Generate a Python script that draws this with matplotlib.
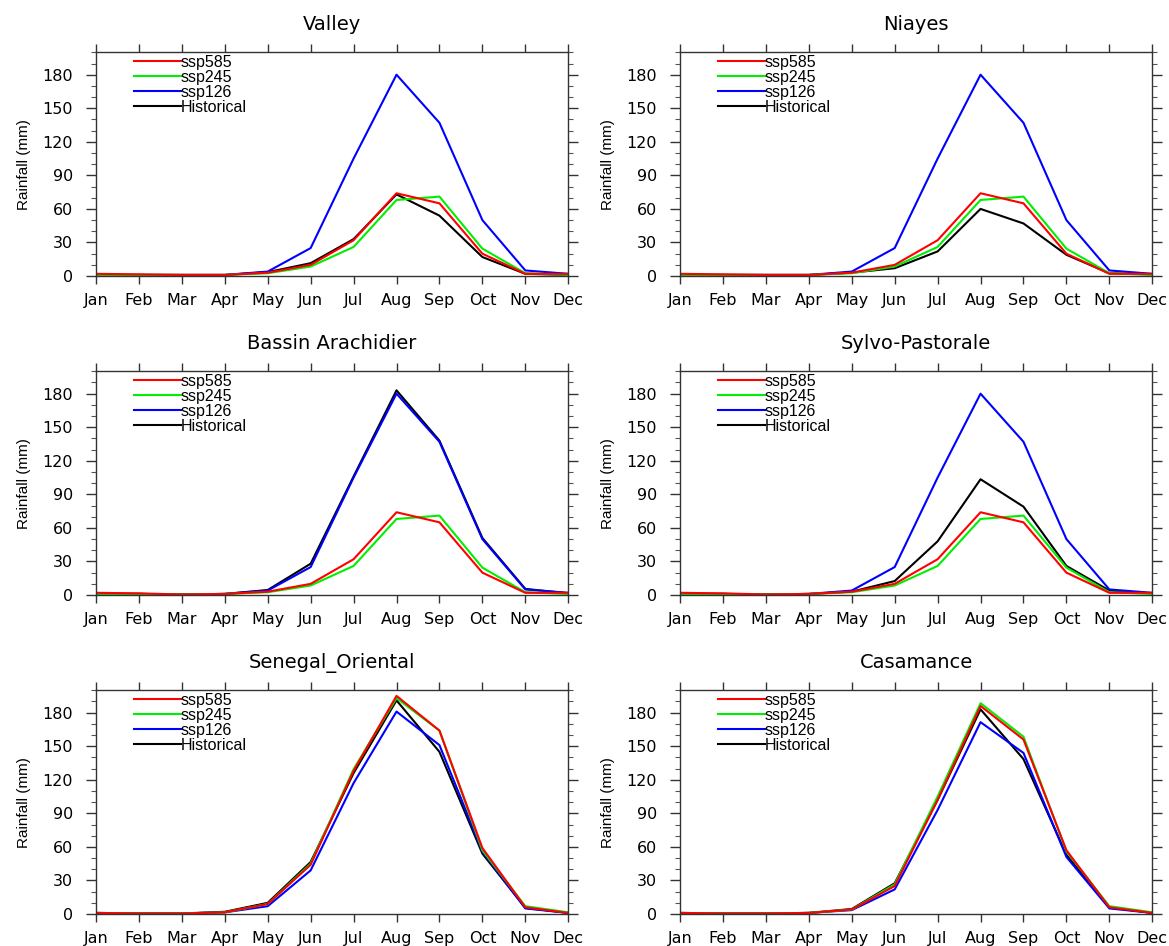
import matplotlib.pyplot as plt
from matplotlib.ticker import MultipleLocator

plt.rcParams['font.family'] = ['DejaVu Sans']

months = ['Jan', 'Feb', 'Mar', 'Apr', 'May', 'Jun', 'Jul', 'Aug', 'Sep', 'Oct', 'Nov', 'Dec']
regions = ['Valley', 'Niayes', 'Bassin Arachidier', 'Sylvo-Pastorale', 'Senegal_Oriental', 'Casamance']

# monthly rainfall (mm)
valley_585 = [2, 1.5, 1, 1, 3, 10, 32, 74, 65, 20, 2, 2]
valley_245 = [1, 1, 1, 1, 2.5, 8.5, 26, 68, 71, 24.5, 2.5, 1]
valley_126 = [1, 1, 1, 1, 4, 25, 105, 180, 137, 50, 5, 2]
valley_hist = [1, 1, 1, 1, 3.5, 11.5, 33, 73, 54, 17, 2, 1]

niayes_585 = [2, 1.5, 1, 1, 3, 10, 32, 74, 65, 20, 2, 2]
niayes_245 = [1, 1, 1, 1, 2.5, 8.5, 26, 68, 71, 24.5, 2.5, 1]
niayes_126 = [1, 1, 1, 1, 4, 25, 105, 180, 137, 50, 5, 2]
niayes_hist = [1, 1, 1, 1, 3, 7, 22, 60, 47, 19, 2.5, 1.5]

bassin_585 = [2, 1.5, 0.5, 1, 3, 10, 32, 74, 65, 20, 2, 2]
bassin_245 = [1, 1, 0.5, 1, 2.5, 8.5, 26, 68, 71, 24.5, 2.5, 1]
bassin_126 = [1, 1, 0.5, 1, 4, 25, 105, 180, 137, 50, 5, 2]
bassin_hist = [1, 1, 0.5, 1, 4.5, 28, 106, 183, 138, 51, 5.5, 1.5]

sylvo_585 = [2, 1.5, 0.5, 1, 3, 10, 32, 74, 65, 20, 2, 2]
sylvo_245 = [1, 1, 0.5, 1, 2.5, 8.5, 26, 68, 71, 24.5, 2.5, 1]
sylvo_126 = [1, 1, 0.5, 1, 4, 25, 105, 180, 137, 50, 5, 2]
sylvo_hist = [1, 1, 0.5, 1, 3, 12.5, 48, 103.5, 79, 26, 4, 1.5]

oriental_585 = [1, 0.5, 0.5, 1.5, 9, 44, 128, 195, 164, 59, 6, 1]
oriental_245 = [1, 0.5, 0.5, 1.5, 9, 45, 129.5, 193, 164, 57, 7, 1.5]
oriental_126 = [0.5, 0.5, 0.5, 1.5, 7, 39, 117, 181, 151, 56, 5, 1]
oriental_hist = [1, 0.5, 0.5, 2, 10, 46.5, 126, 191, 145, 54, 5.5, 1]

casamance_585 = [1, 0.5, 0.5, 1, 4, 25, 102, 186, 156, 57, 6, 1]
casamance_245 = [1, 0.5, 0.5, 1, 4, 26.5, 105, 188.5, 158.5, 56, 7, 1.5]
casamance_126 = [0.5, 0.5, 0.5, 1, 3.5, 22, 93, 171.5, 144, 51, 5, 1]
casamance_hist = [1, 0.5, 0.5, 1, 4.5, 27.5, 102, 183, 138.5, 53, 6, 1]

data = [
    (valley_585, valley_245, valley_126, valley_hist),
    (niayes_585, niayes_245, niayes_126, niayes_hist),
    (bassin_585, bassin_245, bassin_126, bassin_hist),
    (sylvo_585, sylvo_245, sylvo_126, sylvo_hist),
    (oriental_585, oriental_245, oriental_126, oriental_hist),
    (casamance_585, casamance_245, casamance_126, casamance_hist),
]

labels = ['ssp585', 'ssp245', 'ssp126', 'Historical']
colors = ['#ff0000', '#00ee00', '#0000ff', 'black']

fig = plt.figure(figsize=(11.69, 9.46), dpi=100)

lefts = [0.0821, 0.5817]
bottoms = [0.7082, 0.371, 0.0338]
w, h = 0.404, 0.2365

x = list(range(12))
for i, name in enumerate(regions):
    ax = fig.add_axes([lefts[i % 2], bottoms[i // 2], w, h])
    series = data[i]
    handles = [None] * 4
    # historical first so the scenarios sit on top
    for k in [3, 2, 1, 0]:
        ln, = ax.plot(x, series[k], color=colors[k], lw=1.5, label=labels[k])
        handles[k] = ln
    ax.set_xlim(0, 11)
    ax.set_ylim(0, 200)
    ax.set_xticks(x)
    ax.set_xticklabels(months)
    ax.set_yticks([0, 30, 60, 90, 120, 150, 180])
    ax.yaxis.set_minor_locator(MultipleLocator(10))
    ax.tick_params(axis='x', which='major', direction='out', length=5.5, width=1,
                   labelsize=11.5, top=True, pad=6.5, color='#333333')
    ax.tick_params(axis='y', which='major', direction='out', length=7.5, width=1,
                   labelsize=11.5, right=True, pad=9, color='#333333')
    ax.tick_params(axis='y', which='minor', direction='out', length=3.8,
                   width=0.8, right=True, color='#555555')
    for sp in ax.spines.values():
        sp.set_linewidth(1)
        sp.set_color('#333333')
    ax.set_ylabel('Rainfall (mm)', fontsize=11, family=['Liberation Sans', 'DejaVu Sans'])
    ax.yaxis.set_label_coords(-0.138, 0.5)
    ax.set_title(name, fontsize=14, pad=16)
    ax.legend(handles, labels, loc='upper left', bbox_to_anchor=(0.08, 0.99),
              frameon=False, handlelength=2.95, handletextpad=0,
              labelspacing=0.0, borderpad=0, borderaxespad=0,
              prop={'family': ['Liberation Sans', 'DejaVu Sans'], 'size': 11.5})

plt.savefig('out.png', dpi=100)
